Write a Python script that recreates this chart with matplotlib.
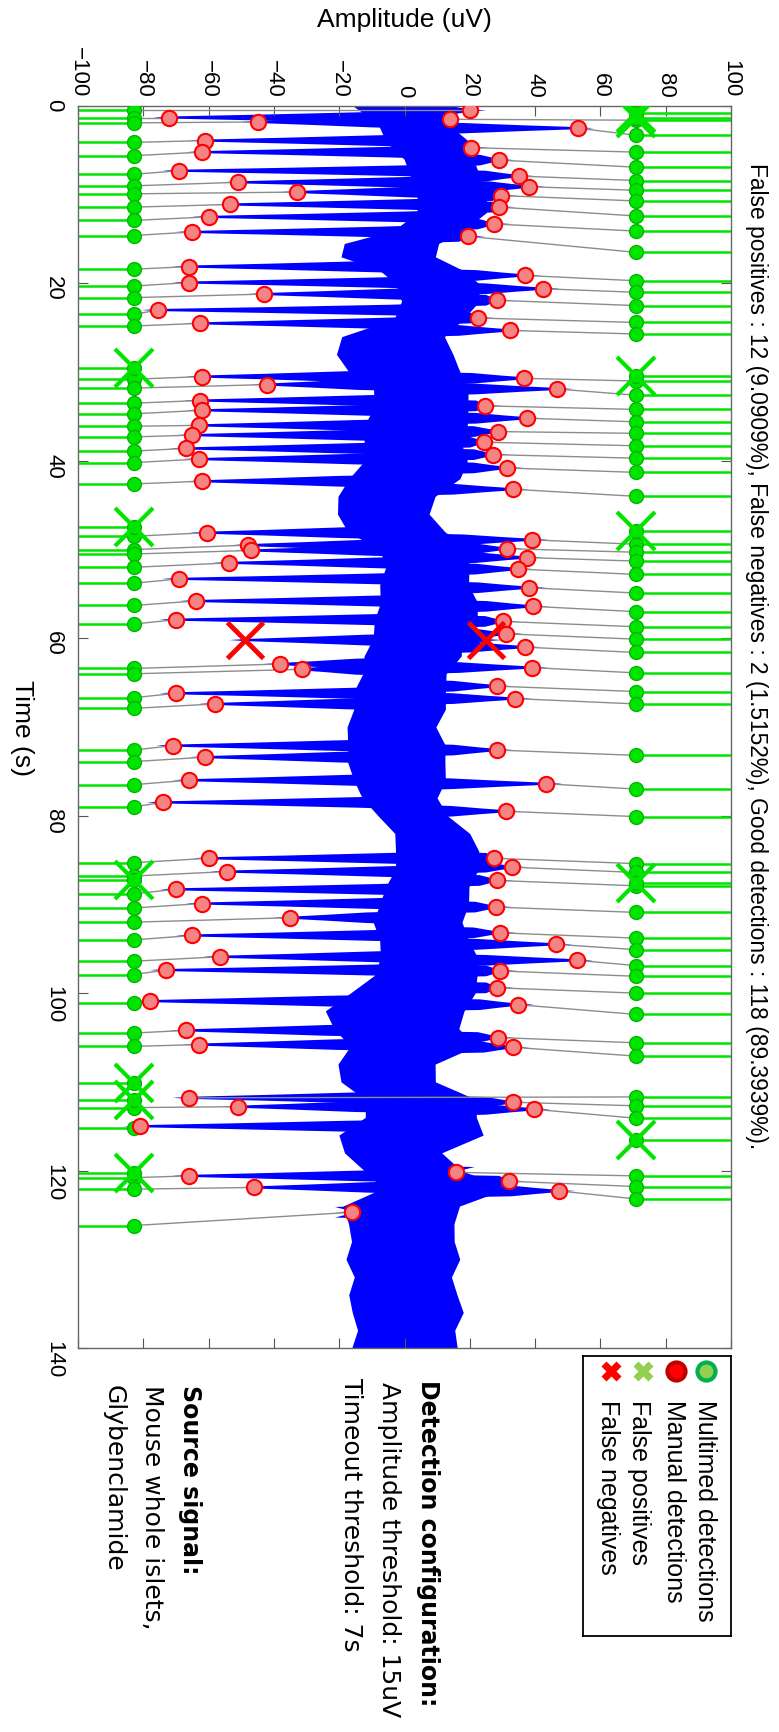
import numpy as np
import matplotlib.pyplot as plt
from matplotlib import font_manager

# manual detections whose matching multimed detection sits in the left column
man_t_left = [0.5, 1.3, 1.8, 3.9, 5.2, 7.3, 8.6, 9.7, 11.1, 12.5, 14.2, 18.1, 19.9, 21.2, 23.0, 24.5,
              30.5, 31.4, 33.2, 34.3, 36.0, 37.1, 38.6, 39.8, 42.3, 48.1, 49.5, 50.1, 51.5, 53.3,
              55.8, 57.9, 62.9, 63.5, 66.2, 67.4, 72.1, 73.4, 76.0, 78.5, 84.8, 86.3, 88.3, 89.9,
              91.5, 93.5, 95.9, 97.4, 100.9, 104.2, 105.8, 112.8, 115.0, 120.6, 121.9, 124.7]
man_a_left = [20, -72, -45, -61, -62, -69, -51, -33, -53.5, -60, -65, -66, -66, -43, -75.5, -62.6,
              -62, -42, -62.6, -62, -63, -65, -67, -63, -62, -60.6, -48, -47, -53.6, -69,
              -64, -70, -38, -31.5, -70, -58, -71, -61, -66, -74, -60, -54.5, -70, -62,
              -35, -65, -56.5, -73, -78, -67, -63, -51, -81, -66, -46, -16]
auto_t_left = [0.5, 1.3, 1.9, 4.1, 5.6, 7.7, 9.0, 9.9, 11.4, 12.9, 14.6, 18.4, 20.3, 21.6, 23.5, 24.8,
               30.8, 31.8, 33.5, 34.7, 36.1, 37.3, 38.9, 40.2, 42.6, 48.5, 50.0, 50.5, 52.0, 53.8,
               56.3, 58.4, 63.4, 64.0, 66.7, 67.9, 72.6, 73.9, 76.5, 79.0, 85.3, 86.8, 88.8, 90.4,
               92.0, 94.0, 96.4, 97.9, 101.1, 104.5, 106.0, 112.9, 115.2, 120.8, 122.1, 126.2]

# manual detections matched in the right column
man_t_right = [1.5, 2.5, 4.7, 6.1, 7.9, 9.1, 10.1, 11.4, 13.3, 14.7, 19.1, 20.6, 21.9, 23.9, 25.3,
               30.7, 31.9, 33.8, 35.2, 36.7, 37.9, 39.3, 40.8, 43.2, 48.9, 49.9, 50.9, 52.2,
               54.3, 56.4, 58.1, 59.5, 61.0, 63.3, 65.4, 66.8, 72.6, 76.4, 79.5, 84.8, 85.8, 87.3,
               90.3, 93.2, 94.5, 96.3, 97.5, 99.4, 101.3, 105.0, 106.1, 111.8, 112.3, 113.1,
               120.2, 121.2, 122.3]
man_a_right = [14, 53, 20.5, 29, 35, 38, 29.5, 29, 27.5, 19.6, 36.8, 42.5, 28.4, 22.6, 32.3,
               36.7, 46.6, 24.7, 37.6, 28.7, 24.4, 27.2, 31.3, 33.1, 38.9, 31.3, 37.4, 34.8,
               38.2, 39.3, 30.1, 31.1, 36.9, 38.9, 28.4, 33.8, 28.4, 43.3, 31.1, 27.4, 32.8, 28.4,
               28.1, 29.1, 46.4, 52.8, 29.4, 28.4, 34.7, 28.6, 33.1, -66, 33.1, 39.8,
               15.8, 32, 47.3]
auto_t_right = [1.6, 3.3, 5.2, 6.9, 8.4, 9.5, 10.7, 12.4, 14.1, 16.5, 19.7, 21.0, 22.5, 24.4, 25.7,
                31.0, 32.6, 34.2, 35.6, 36.9, 38.3, 39.7, 41.3, 44.0, 49.4, 50.3, 51.3, 52.8,
                54.9, 57.0, 58.7, 60.1, 61.6, 63.9, 66.0, 67.4, 73.2, 77.0, 80.1, 85.4, 86.4, 87.9,
                90.9, 93.8, 95.1, 96.9, 98.1, 100.0, 102.4, 105.6, 107.1, 111.7, 112.7, 114.1,
                120.6, 121.8, 123.2]

# multimed detections with no manual partner
fp_t_left = [29.5, 47.5, 87.2, 110.1, 112.0, 120.3]
fp_t_right = [0.8, 1.3, 30.4, 47.9, 87.6, 116.6]
# manual detections that multimed missed
fn_t = [60.2, 60.2]
fn_a = [-48.7, 25.0]

# envelope of the noisy baseline of the signal
band_t = [0, 2, 4, 6, 8, 10, 12, 14, 15.5, 17, 18.5, 20, 22, 24, 26, 28, 30, 32, 34, 36, 38, 40,
          42, 44, 46, 48, 50, 52, 54, 56, 58, 60, 62, 64, 66, 68, 70, 72, 74, 76, 78, 80, 82, 84,
          86, 88, 90, 92, 94, 96, 98, 100, 102, 104, 106, 108, 110, 112, 114, 116, 118, 120, 122,
          124, 126, 128, 130, 132, 134, 136, 138, 140]
band_lo = [-18, -10, -8, -2, 0, 2, 2, -5, -21, -22, -10, -5, -3, -5, -22, -24, -20, -12, -12, -15,
           -15, -15, -20, -23, -23, -20, -10, -8, -10, -10, -12, -12, -15, -15, -18, -18, -20, -20,
           -20, -18, -15, -10, -5, -5, -5, -8, -10, -12, -10, -10, -12, -20, -28, -25, -20, -23,
           -22, -15, -15, -24, -21, -15, -10, -22, -20, -19, -21, -18, -20, -19, -17, -19]
band_hi = [12, 15, 22, 23, 25, 27, 27, 20, 13, 12, 20, 25, 25, 20, 15, 18, 20, 22, 22, 22, 20, 22,
           20, 12, 10, 15, 22, 22, 22, 25, 25, 20, 20, 15, 15, 15, 12, 15, 15, 15, 12, 15, 22, 25,
           25, 22, 22, 20, 22, 25, 25, 25, 22, 20, 25, 12, 12, 25, 25, 28, 14, 20, 35, 20, 18, 18,
           20, 17, 19, 21, 18, 19]

LEFT_COL, RIGHT_COL = -83, 71
BLUE = '#0000ff'
GREEN = '#00e400'

title = ('False positives : 12 (9.0909%), False negatives : 2 (1.5152%), '
         'Good detections : 118 (89.3939%).')

# narrow helvetica-like font if we have it
names = {f.name for f in font_manager.fontManager.ttflist}
if 'Liberation Sans Narrow' in names:
    SANS, k = 'Liberation Sans Narrow', 1 / 0.82
else:
    SANS, k = 'Liberation Sans', 1.0

W, H = 779, 1733
fig = plt.figure(figsize=(W / 100, H / 100), dpi=100)
ax = fig.add_axes([78 / W, 1 - 1349 / H, 653 / W, 1242 / H])
ax.set_xlim(-100, 100)
ax.set_ylim(140, 0)

# signal: baseline band (a bit inset so the wedges dominate) + one wedge per manual detection
lo = np.array(band_lo, float)
hi = np.array(band_hi, float)
mid = (lo + hi) / 2
ax.fill_betweenx(band_t, lo + 0.15 * (mid - lo), hi - 0.15 * (hi - mid), color=BLUE, lw=0, zorder=1)
all_t = man_t_left + man_t_right + fn_t
all_a = man_a_left + man_a_right + fn_a
for t, a in zip(all_t, all_a):
    base = np.interp(t, band_t, mid)
    edge = np.interp(t, band_t, hi if a > 0 else lo)
    tip = a + 5 * np.sign(a)
    knee = edge + 0.55 * (a - edge)
    xs = [base, edge, knee, a, tip, a, knee, edge, base]
    ys = [t - 0.75, t - 0.6, t - 0.32, t - 0.12, t, t + 0.12, t + 0.32, t + 0.6, t + 0.75]
    ax.fill(xs, ys, color=BLUE, lw=0, zorder=1)

# links manual -> multimed
for mt, ma, at in zip(man_t_left, man_a_left, auto_t_left):
    ax.plot([ma, LEFT_COL], [mt, at], color='#8c8c8c', lw=1, zorder=2)
for mt, ma, at in zip(man_t_right, man_a_right, auto_t_right):
    ax.plot([ma, RIGHT_COL], [mt, at], color='#8c8c8c', lw=1, zorder=2)

# multimed detections: stems to the axis edge + dots
left_t = auto_t_left + fp_t_left
right_t = auto_t_right + fp_t_right
ax.hlines(left_t, -100, LEFT_COL, color=GREEN, lw=1.8, zorder=2)
ax.hlines(right_t, RIGHT_COL, 100, color=GREEN, lw=1.8, zorder=2)
ax.plot([LEFT_COL] * len(left_t), left_t, 'o', ms=10, mfc=GREEN, mec='#00b800', mew=1, zorder=3)
ax.plot([RIGHT_COL] * len(right_t), right_t, 'o', ms=10, mfc=GREEN, mec='#00b800', mew=1, zorder=3)

# manual detections
ax.plot(man_a_left + man_a_right, man_t_left + man_t_right, 'o', ms=11,
        mfc='#f48484', mec='#ff0000', mew=1.5, zorder=4)

# false positives / negatives
ax.plot([LEFT_COL] * len(fp_t_left), fp_t_left, 'x', ms=27, mec=GREEN, mew=3, zorder=5)
ax.plot([RIGHT_COL] * len(fp_t_right), fp_t_right, 'x', ms=27, mec=GREEN, mew=3, zorder=5)
ax.plot(fn_a, fn_t, 'x', ms=26, mec='#ff0000', mew=3.5, zorder=5)

# axes styling
ax.set_xticks(range(-100, 101, 20))
ax.set_yticks(range(0, 141, 20))
ax.xaxis.tick_top()
ax.tick_params(axis='x', top=True, bottom=True, labeltop=True, labelbottom=False,
               direction='in', length=7, pad=7, color='#555555')
ax.tick_params(axis='y', left=True, right=True, direction='in', length=7, pad=10,
               color='#555555')
for lab in ax.get_xticklabels() + ax.get_yticklabels():
    lab.set_rotation(270)
    lab.set_fontfamily(SANS)
    lab.set_fontsize(16 * k)
for s in ax.spines.values():
    s.set_color('#666666')
    s.set_linewidth(1)

fig.text(404 / W, 1 - 20 / H, 'Amplitude (uV)', ha='center', va='center',
         family=SANS, fontsize=19 * k)
fig.text(22 / W, 1 - 728 / H, 'Time (s)', ha='center', va='center', rotation=270,
         family=SANS, fontsize=19 * k)
fig.text(756 / W, 1 - 656 / H, title, ha='center', va='center', rotation=270,
         family=SANS, fontsize=16.4 * k)

# legend drawn by hand (it is rotated with the rest of the figure)
lax = fig.add_axes([583 / W, 1 - 1637 / H, 148 / W, 280 / H])
lax.set_xlim(0, 148)
lax.set_ylim(280, 0)
lax.set_xticks([])
lax.set_yticks([])
for s in lax.spines.values():
    s.set_color('black')
    s.set_linewidth(1.3)
lax.plot(123, 15, 'o', ms=13, mfc='#92d050', mec='#00b050', mew=3)
lax.plot(93, 15, 'o', ms=13, mfc='#ff0000', mec='#c00000', mew=3)
lax.plot(60, 15, 'X', ms=14, mfc='#92d050', mec='none')
lax.plot(28, 15, 'X', ms=14, mfc='#ff0000', mec='none')
for x, s in zip([122, 91, 56, 25],
                ['Multimed detections', 'Manual detections', 'False positives', 'False negatives']):
    lax.text(x, 43, s, rotation=270, ha='center', va='top', family=SANS, fontsize=18 * k)

# detection settings / source text
lines = [(428, 1380, 'Detection configuration:', 'bold', 17),
         (389, 1382, 'Amplitude threshold: 15uV', 'normal', 18),
         (351, 1378, 'Timeout threshold: 7s', 'normal', 18),
         (190, 1385, 'Source signal:', 'bold', 17),
         (152, 1385, 'Mouse whole islets,', 'normal', 18),
         (114, 1385, 'Glybenclamide', 'normal', 18)]
for x, y, s, wgt, fs in lines:
    fig.text(x / W, 1 - y / H, s, rotation=270, ha='center', va='top',
             family='DejaVu Sans', fontweight=wgt, fontsize=fs)

fig.savefig('out.png', dpi=100)
